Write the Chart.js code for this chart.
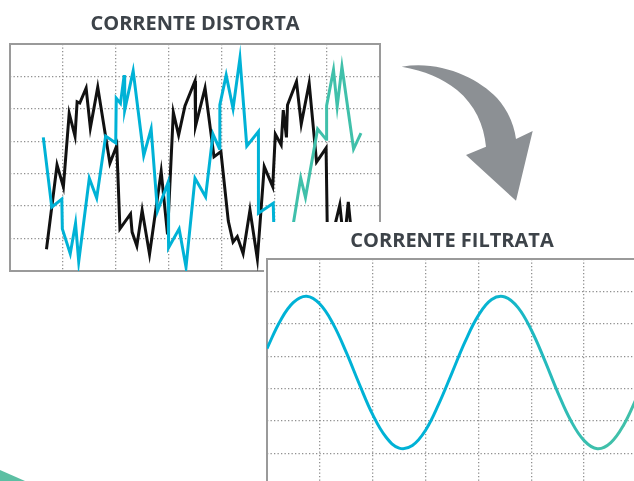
<!DOCTYPE html>
<html>
<head>
<meta charset="utf-8">
<script src="https://cdn.jsdelivr.net/npm/chart.js@4.4.0/dist/chart.umd.min.js"></script>
<style>
  body { margin: 0; width: 634px; height: 481px; overflow: hidden; background: #fff; position: relative; }
  #box1 { position: absolute; left: 0; top: 0; width: 390px; height: 281px; }
  #box2 { position: absolute; left: 264px; top: 222px; width: 390px; height: 280px; background: #fff; }
  svg { position: absolute; left: 0; top: 0; }
</style>
</head>
<body>
<div id="box1"><canvas id="distorta"></canvas></div>
<svg width="634" height="481">
  <path d="M401.7,66.7 C440,60 478,78 497,98 C508,110 514,125 516,139 L532.7,131 L516,200.7 L466,155 L486,146.7 C484,125 475,105 457,90 C442,78 425,71 401.7,66.7 Z" fill="#8c9094"/>
</svg>
<div id="box2"><canvas id="filtrata"></canvas></div>
<svg width="634" height="481" style="pointer-events:none">
  <polygon points="0,470 25,481 0,481" fill="#5cbfa3"/>
</svg>
<script>
// grid divisions (7 x 7 squares, oscilloscope style)
const gridX = [0, 10, 20, 30, 40, 50, 60, 70];
const gridY = [-35, -25, -15, -5, 5, 15, 25, 35];

// distorted current: two jagged traces
const blackX = [6.9, 8.9, 10.1, 11.2, 12.3, 12.7, 13.2, 14.4, 15.2, 16.6, 18.9, 20.2, 20.8, 22.8, 23.1, 24.0, 25.0, 26.4, 28.6, 29.8,
  30.9, 31.9, 33.1, 35.0, 35.1, 36.9, 38.6, 39.9, 41.3, 42.2, 43.0, 44.1, 45.4, 46.8, 48.1, 49.7, 50.2, 51.3, 51.7, 52.3,
  52.5, 54.2, 55.1, 56.6, 58.0, 59.8, 60.1, 62.4, 63.2, 64.0, 64.9];
const blackY = [-28.3, -2.3, -9.1, 13.6, 6.6, 17.2, 16.8, 21.4, 9.1, 21.7, -1.8, 3.7, -22.0, -17.4, -23.0, -27.3, -16.3, -29.8, -4.3, -23.7,
  13.9, 6.9, 15.9, 23.6, 9.7, 21.4, 0.2, 1.8, -19.6, -26.1, -24.4, -29.6, -16.2, -31.3, -2.8, -9.0, 7.2, 3.9, 14.6, 6.2,
  16.2, 23.4, 10.3, 22.9, -1.4, 2.9, -30.1, -14.6, -27.0, -13.7, -28.5];
const cyanX = [6.3, 7.9, 9.8, 9.9, 11.4, 12.4, 13.0, 15.0, 16.4, 18.1, 20.0, 20.1, 20.9, 21.6, 21.7, 23.3, 25.3, 26.7, 27.9, 29.9,
  30.0, 32.0, 33.3, 35.0, 37.0, 38.4, 39.6, 39.7, 40.9, 42.2, 43.5, 44.8, 47.0, 47.0, 49.8, 50.0, 51.8, 52.8, 55.0, 55.9,
  58.2, 59.8, 59.9, 61.2, 61.9, 62.8, 65.0, 66.4];
const cyanY = [6.2, -15.3, -12.8, -22.0, -29.7, -20.3, -32.1, -6.4, -12.5, 6.6, 4.5, 18.3, 16.7, 25.4, 14.6, 26.7, 0.6, 8.8, -16.5, -7.7,
  -27.8, -22.0, -33.8, -6.4, -12.1, 7.2, 2.8, 16.2, 25.4, 15.1, 30.6, 3.5, 8.0, -17.2, -14.1, -27.0, -31.0, -28.5, -6.3, -12.3,
  8.8, 5.6, 16.0, 27.0, 15.7, 28.0, 2.6, 7.5];

// filtered current: smooth wave
const filtX = [0, 2.5, 5, 7.5, 10, 12.5, 15, 17.5, 20, 22.5, 25, 27.5, 30, 32.5, 35, 37.5, 40, 42.5, 45, 47.5,
  50, 52.5, 55, 57.5, 60, 62.5, 65, 67.5, 70];
const filtY = [7.4, 15.9, 21.6, 23.5, 21.1, 15.0, 6.2, -3.7, -13.0, -19.9, -23.3, -22.5, -17.8, -9.7, -0.1, 9.6, 17.6, 22.5, 23.3, 20.0,
  13.1, 3.9, -6.1, -14.9, -21.0, -23.5, -21.7, -16.1, -7.6];

const CYAN = '#00b2d6';
const TEAL = '#40c0aa';
const INK = '#3d4349';

const pts = (xs, ys) => xs.map((x, i) => ({ x, y: ys[i] }));

// cyan trace turns teal towards the right
function fade(from, to) {
  return (ctx) => {
    const a = ctx.chart.chartArea;
    if (!a) return CYAN;
    const g = ctx.chart.ctx.createLinearGradient(a.left, 0, a.right, 0);
    g.addColorStop(0, CYAN);
    g.addColorStop(from, CYAN);
    g.addColorStop(to, TEAL);
    g.addColorStop(1, TEAL);
    return g;
  };
}

function scaleOpts(ticks) {
  return {
    type: 'linear',
    min: ticks[0],
    max: ticks[ticks.length - 1],
    afterBuildTicks: (axis) => { axis.ticks = ticks.map((v) => ({ value: v })); },
    ticks: { display: false },
    grid: { color: '#8f8f8f', lineWidth: 1.3, drawTicks: false },
    border: { display: false, dash: [1.3, 2.2] },
  };
}

const frame = {
  id: 'frame',
  beforeDatasetsDraw(chart) {
    const { ctx, chartArea: a } = chart;
    ctx.save();
    ctx.strokeStyle = '#9a9a9a';
    ctx.lineWidth = 2;
    ctx.strokeRect(a.left, a.top, a.right - a.left, a.bottom - a.top);
    ctx.restore();
  },
};

function makeChart(id, title, datasets, padding, titlePad) {
  return new Chart(document.getElementById(id), {
    type: 'line',
    data: { datasets },
    options: {
      responsive: true,
      maintainAspectRatio: false,
      animation: false,
      layout: { padding },
      plugins: {
        legend: { display: false },
        tooltip: { enabled: false },
        title: {
          display: true,
          text: title,
          color: INK,
          font: { family: 'Open Sans', size: 20, weight: 'bold' },
          padding: titlePad,
        },
      },
      scales: { x: scaleOpts(gridX), y: scaleOpts(gridY) },
    },
    plugins: [frame],
  });
}

makeChart('distorta', 'CORRENTE DISTORTA', [
  { data: pts(cyanX, cyanY), borderColor: fade(0.72, 0.77), borderWidth: 3, pointRadius: 0, tension: 0 },
  { data: pts(blackX, blackY), borderColor: '#111', borderWidth: 3, pointRadius: 0, tension: 0 },
], { left: 10, right: 10, top: 0, bottom: 10 }, { top: 12, bottom: 8 });

makeChart('filtrata', 'CORRENTE FILTRATA', [
  { data: pts(filtX, filtY), borderColor: fade(0.55, 0.9), borderWidth: 3, pointRadius: 0, tension: 0.4 },
], { left: 3, right: 17, top: 0, bottom: 16 }, { top: 7.5, bottom: 5.5 });
</script>
</body>
</html>
